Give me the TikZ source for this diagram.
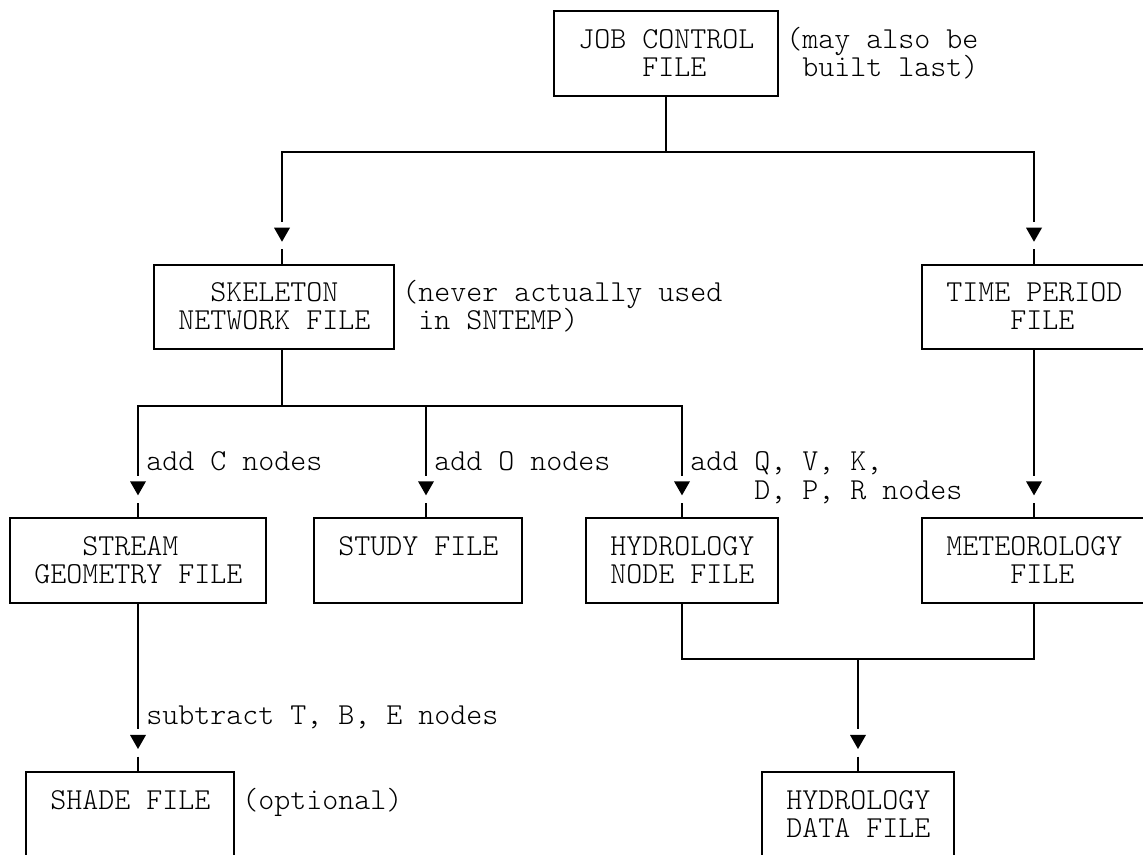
\documentclass[tikz,border=0pt]{standalone}
\usepackage{fontspec}
\begin{document}
\begin{tikzpicture}[x=0.75pt,y=-0.75pt,
  box/.style={draw, line width=1.5pt, inner sep=0pt, minimum height=63.405pt},
  wire/.style={line width=1.5pt},
  txt/.style={anchor=base west, inner sep=0pt, font=\ttfamily\fontseries{l}\fontsize{22.857}{26}\selectfont},
  downtri/.pic={\fill (-8,-8.7) -- (8,-8.7) -- (0,5.3) -- cycle;}]
\useasboundingbox (0,0) rectangle (1143,855);
\clip (0,0) rectangle (1143,855);
% boxes
\node[box, minimum width=168pt] (job) at (666,53.27) {};
\node[box, minimum width=180pt] (skel) at (274,306.89) {};
\node[box, minimum width=168pt] (time) at (1034,306.89) {};
\node[box, minimum width=192pt] (stream) at (138,560.51) {};
\node[box, minimum width=156pt] (study) at (418,560.51) {};
\node[box, minimum width=144pt] (hnode) at (682,560.51) {};
\node[box, minimum width=168pt] (met) at (1034,560.51) {};
\node[box, minimum width=156pt] (shade) at (130,814.13) {};
\node[box, minimum width=144pt] (hdata) at (858,814.13) {};
% texts
\node[txt] (t1) at (578,48.2) {JOB CONTROL};
\node[txt] (t2) at (642,76.4) {FILE};
\node[txt] (t3) at (786,48.2) {(may also be};
\node[txt] (t4) at (802,76.4) {built last)};
\node[txt] (t5) at (210,301.8) {SKELETON};
\node[txt] (t6) at (178,330) {NETWORK FILE};
\node[txt] (t7) at (402,301.8) {(never actually used};
\node[txt] (t8) at (418,330) {in SNTEMP)};
\node[txt] (t9) at (946,301.8) {TIME PERIOD};
\node[txt] (t10) at (1010,330) {FILE};
\node[txt] (t11) at (146,470.9) {add C nodes};
\node[txt] (t12) at (434,470.9) {add O nodes};
\node[txt] (t13) at (690,470.9) {add Q, V, K,};
\node[txt] (t14) at (754,499.1) {D, P, R nodes};
\node[txt] (t15) at (82,555.4) {STREAM};
\node[txt] (t16) at (34,583.6) {GEOMETRY FILE};
\node[txt] (t17) at (338,555.4) {STUDY FILE};
\node[txt] (t18) at (610,555.4) {HYDROLOGY};
\node[txt] (t19) at (610,583.6) {NODE FILE};
\node[txt] (t20) at (946,555.4) {METEOROLOGY};
\node[txt] (t21) at (1010,583.6) {FILE};
\node[txt] (t22) at (146,724.5) {subtract T, B, E nodes};
\node[txt] (t23) at (50,809) {SHADE FILE};
\node[txt] (t24) at (242,809) {(optional)};
\node[txt] (t25) at (786,809) {HYDROLOGY};
\node[txt] (t26) at (786,837.2) {DATA FILE};
% junctions and arrow positions
\coordinate (jh) at (666,151.9);
\coordinate (sh) at (282,405.52);
\coordinate (mh) at (858,659.14);
\coordinate (ar1) at (282,236.44);
\coordinate (ar2) at (1034,236.44);
\coordinate (ar3) at (138,490.06);
\coordinate (ar4) at (426,490.06);
\coordinate (ar5) at (682,490.06);
\coordinate (ar6) at (1034,490.06);
\coordinate (ar7) at (858,743.68);
\coordinate (ar8) at (138,743.68);
% connectors
\draw[wire] (job.south) -- (jh);
\draw[wire, shorten >=10.8pt] (jh) -| (ar1);
\draw[wire, shorten >=10.8pt] (jh) -| (ar2);
\draw[wire] (ar1 |- skel.south) -- (sh);
\draw[wire, shorten >=10.8pt] (sh) -| (ar3);
\draw[wire, shorten >=10.8pt] (sh) -| (ar4);
\draw[wire, shorten >=10.8pt] (sh) -| (ar5);
\draw[wire, shorten >=10.8pt] (time.south) -- (ar6);
\draw[wire] (hnode.south) |- (mh) -| (met.south);
\draw[wire, shorten >=10.8pt] (mh) -- (ar7);
\draw[wire, shorten >=10.8pt] (stream.south) -- (ar8);
\foreach \a/\b in {ar1/skel, ar2/time, ar3/stream, ar4/study, ar5/hnode, ar6/met, ar7/hdata, ar8/shade}{
  \pic at (\a) {downtri};
  \draw[wire, shorten <=9.75pt] (\a) -- (\a |- \b.north);
}
\end{tikzpicture}
\end{document}
